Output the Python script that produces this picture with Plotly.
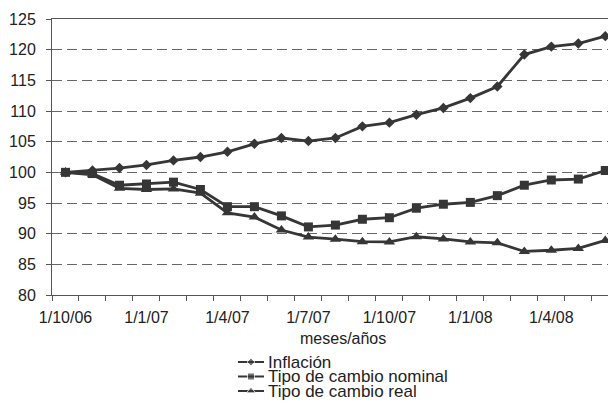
import plotly.graph_objects as go

# Monthly index values (base 1/10/06 = 100)
months = ["1/10/06", "1/11/06", "1/12/06", "1/1/07", "1/2/07", "1/3/07", "1/4/07",
          "1/5/07", "1/6/07", "1/7/07", "1/8/07", "1/9/07", "1/10/07", "1/11/07",
          "1/12/07", "1/1/08", "1/2/08", "1/3/08", "1/4/08", "1/5/08", "1/6/08"]
inflacion = [100, 100.3, 100.7, 101.2, 101.95, 102.5, 103.35, 104.65, 105.6, 105.1,
             105.6, 107.5, 108.1, 109.4, 110.5, 112.1, 114.0, 119.2, 120.5, 121.0, 122.2]
nominal = [100, 99.8, 97.9, 98.1, 98.4, 97.2, 94.4, 94.4, 92.9, 91.1,
           91.4, 92.35, 92.6, 94.15, 94.8, 95.1, 96.2, 97.9, 98.75, 98.9, 100.3]
real = [100, 99.6, 97.4, 97.2, 97.3, 96.6, 93.4, 92.7, 90.6, 89.45,
        89.1, 88.7, 88.65, 89.5, 89.15, 88.65, 88.5, 87.1, 87.3, 87.6, 88.9]

series_names = ["Inflación", "Tipo de cambio nominal", "Tipo de cambio real"]
series_values = [inflacion, nominal, real]
symbols = ["diamond", "square", "triangle-up"]
marker_sizes = [8, 9, 10]
legend_marker_sizes = [6, 7, 8]

INK = "#363636"
FONT = "Liberation Sans, Arial, sans-serif"

x_idx = list(range(len(months)))

fig = go.Figure()

for name, vals, sym, ms in zip(series_names, series_values, symbols, marker_sizes):
    fig.add_trace(go.Scatter(
        x=x_idx, y=vals, name=name, mode="lines+markers",
        line=dict(color=INK, width=2.8),
        marker=dict(symbol=sym, size=ms, color=INK),
        cliponaxis=False, showlegend=False, xaxis="x", yaxis="y",
    ))

# Hand-built legend on its own small axes, stacked tightly
for k, (name, sym, ms) in enumerate(zip(series_names, symbols, legend_marker_sizes)):
    row = len(series_names) - 1 - k
    fig.add_trace(go.Scatter(
        x=[0, 1, 2], y=[row, row, row], mode="lines+markers",
        line=dict(color=INK, width=2.2),
        marker=dict(symbol=sym, size=[0, ms, 0], color=INK),
        showlegend=False, xaxis="x2", yaxis="y2", hoverinfo="skip",
    ))
    fig.add_annotation(
        x=2, y=row, xref="x2", yref="y2", text=name, showarrow=False,
        xanchor="left", yanchor="middle", xshift=2,
        font=dict(family=FONT, size=17, color="#222"),
    )

fig.add_annotation(
    x=0.5225, y=0.1714, xref="paper", yref="paper", text="meses/años",
    showarrow=False, xanchor="center", yanchor="middle",
    font=dict(family=FONT, size=16, color="#222"),
)

fig.update_layout(
    width=608, height=404,
    margin=dict(l=52, r=0, t=19, b=0, autoexpand=False),
    paper_bgcolor="white", plot_bgcolor="white",
    font=dict(family=FONT, size=16, color="#222"),
    xaxis=dict(
        domain=[0, 1], range=[-0.5, 20.1], automargin=False,
        tickmode="array", tickvals=x_idx[::3], ticktext=months[::3],
        ticks="", showgrid=False, zeroline=False,
        showline=True, linecolor="#555", linewidth=1, mirror=True,
        ticklabelstandoff=8,
        minor=dict(tickmode="array", tickvals=[i - 0.5 for i in range(len(months) + 1)],
                   ticks="outside", ticklen=5, tickcolor="#555", showgrid=False),
        anchor="y",
    ),
    yaxis=dict(
        domain=[0.2831, 1], range=[80, 125], automargin=False,
        tickmode="linear", tick0=80, dtick=5,
        ticks="outside", ticklen=5, tickcolor="#555",
        showline=True, linecolor="#555", linewidth=1,
        showgrid=True, gridcolor="#666", gridwidth=1, griddash="10px,5px",
        zeroline=False, ticklabelstandoff=7,
        anchor="x",
    ),
    xaxis2=dict(domain=[0.3345, 0.3813], range=[0, 2], visible=False,
                anchor="y2", fixedrange=True, automargin=False),
    yaxis2=dict(domain=[0.0149, 0.1279], range=[-0.5, 2.5], visible=False,
                anchor="x2", fixedrange=True, automargin=False),
)

fig.write_html("out.html")
